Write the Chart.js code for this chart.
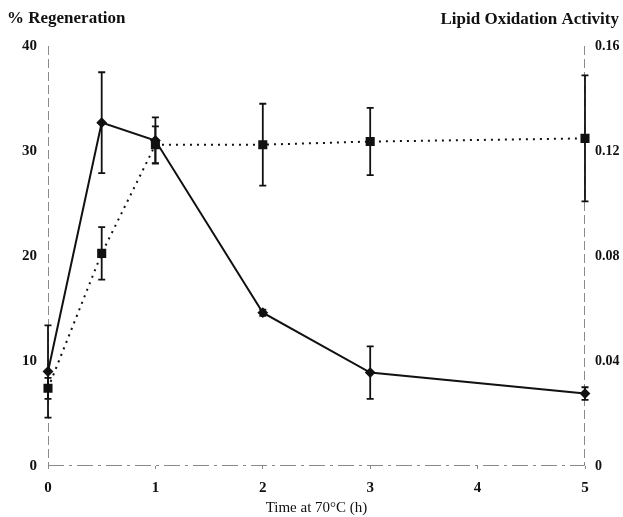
<!DOCTYPE html>
<html>
<head>
<meta charset="utf-8">
<script src="https://cdn.jsdelivr.net/npm/chart.js@4.4.1/dist/chart.umd.min.js"></script>
<style>
  html, body { margin: 0; padding: 0; background: #fff; }
  #wrap { width: 623px; height: 517px; position: relative; }
</style>
</head>
<body>
<div id="wrap"><canvas id="regenChart"></canvas></div>
<script>
// Heating time at 70 C (hours)
const timeHours = [0, 0.5, 1, 2, 3, 5];

// % regeneration (left axis), solid line with diamonds
const regeneration = [9.0, 32.7, 31.0, 14.6, 8.9, 6.9];
const regenerationErr = [4.4, 4.8, 2.2, 0.3, 2.5, 0.6];

// lipid oxidation activity (right axis), dotted line with squares
const lipidOxidation = [0.0296, 0.081, 0.1224, 0.1224, 0.1236, 0.1248];
const lipidOxidationErr = [0.004, 0.010, 0.007, 0.0156, 0.0128, 0.024];

const xTicks = [0, 1, 2, 3, 4, 5];
const leftTicks = [0, 10, 20, 30, 40];
const rightTicks = [0, 0.04, 0.08, 0.12, 0.16];

const serif = '"Liberation Serif", "Times New Roman", serif';

// dashed axis lines round the plot area (the scale borders are solid only)
const dashedAxes = {
    id: 'dashedAxes',
    beforeDatasetsDraw(chart) {
        const { left, right, top, bottom } = chart.chartArea;
        const ctx = chart.ctx;
        ctx.save();
        ctx.strokeStyle = '#8a8a8a';
        ctx.lineWidth = 1;
        ctx.setLineDash([9, 4]);
        ctx.beginPath();
        ctx.moveTo(left + 0.5, top); ctx.lineTo(left + 0.5, bottom);
        ctx.moveTo(right - 0.5, top); ctx.lineTo(right - 0.5, bottom);
        ctx.stroke();
        ctx.setLineDash([16, 5, 3, 5]);
        ctx.beginPath();
        ctx.moveTo(left, bottom - 0.5); ctx.lineTo(right, bottom - 0.5);
        ctx.stroke();
        ctx.restore();
    }
};

// error bars drawn with the chart's own scales
const errorBars = {
    id: 'errorBars',
    afterDatasetsDraw(chart) {
        const ctx = chart.ctx;
        const xs = chart.scales.x;
        ctx.save();
        ctx.strokeStyle = '#111';
        ctx.lineWidth = 1.8;
        chart.data.datasets.forEach(ds => {
            const ys = chart.scales[ds.yAxisID];
            ds.data.forEach((pt, i) => {
                const e = ds.errors[i];
                const px = xs.getPixelForValue(pt.x);
                const top = ys.getPixelForValue(pt.y + e);
                const bot = ys.getPixelForValue(pt.y - e);
                ctx.beginPath();
                ctx.moveTo(px, top); ctx.lineTo(px, bot);
                ctx.moveTo(px - 3.5, top); ctx.lineTo(px + 3.5, top);
                ctx.moveTo(px - 3.5, bot); ctx.lineTo(px + 3.5, bot);
                ctx.stroke();
            });
        });
        ctx.restore();
    }
};

// axis titles at the top corners
const cornerTitles = {
    id: 'cornerTitles',
    afterDraw(chart) {
        const ctx = chart.ctx;
        ctx.save();
        ctx.fillStyle = '#111';
        ctx.font = 'bold 17px ' + serif;
        ctx.textBaseline = 'middle';
        ctx.textAlign = 'left';
        ctx.fillText('% Regeneration', 7, 19);
        ctx.textAlign = 'right';
        ctx.fillText('Lipid Oxidation Activity', 619, 20);
        ctx.restore();
    }
};

const ctx = document.getElementById('regenChart').getContext('2d');

new Chart(ctx, {
    type: 'line',
    data: {
        datasets: [{
            label: '% Regeneration',
            data: timeHours.map((t, i) => ({ x: t, y: regeneration[i] })),
            errors: regenerationErr,
            yAxisID: 'y',
            borderColor: '#111',
            backgroundColor: '#111',
            borderWidth: 2,
            pointStyle: 'rectRot',
            pointRadius: 4,
            tension: 0,
            clip: false
        }, {
            label: 'Lipid Oxidation Activity',
            data: timeHours.map((t, i) => ({ x: t, y: lipidOxidation[i] })),
            errors: lipidOxidationErr,
            yAxisID: 'y1',
            borderColor: '#111',
            backgroundColor: '#111',
            borderWidth: 2,
            borderDash: [2, 5],
            pointStyle: 'rect',
            pointRadius: 5,
            tension: 0,
            clip: false
        }]
    },
    options: {
        responsive: true,
        maintainAspectRatio: false,
        animation: false,
        layout: { padding: { top: 46, right: 0, left: 0, bottom: 0 } },
        plugins: {
            legend: { display: false },
            tooltip: { enabled: false }
        },
        scales: {
            x: {
                type: 'linear',
                min: 0,
                max: 5,
                afterBuildTicks: axis => { axis.ticks = xTicks.map(v => ({ value: v })); },
                afterFit: axis => { axis.height = 51; },
                grid: { drawOnChartArea: false, drawTicks: true, tickLength: 3, color: '#888' },
                border: { display: false },
                ticks: { color: '#111', padding: 10, font: { family: serif, size: 15, weight: 'bold' } },
                title: {
                    display: true,
                    text: 'Time at 70°C (h)',
                    color: '#111',
                    padding: { top: 0, bottom: 0 },
                    font: { family: serif, size: 15 }
                }
            },
            y: {
                position: 'left',
                min: 0,
                max: 40,
                afterBuildTicks: axis => { axis.ticks = leftTicks.map(v => ({ value: v })); },
                afterFit: axis => { axis.width = 48; },
                grid: { drawOnChartArea: false, drawTicks: false },
                border: { display: false },
                ticks: { color: '#111', padding: 11, font: { family: serif, size: 15, weight: 'bold' } }
            },
            y1: {
                position: 'right',
                min: 0,
                max: 0.16,
                afterBuildTicks: axis => { axis.ticks = rightTicks.map(v => ({ value: v })); },
                afterFit: axis => { axis.width = 38; },
                grid: { drawOnChartArea: false, drawTicks: false },
                border: { display: false },
                ticks: {
                    color: '#111',
                    padding: 10,
                    font: { family: serif, size: 14, weight: 'bold' },
                    callback: v => v === 0 ? '0' : v.toFixed(2)
                }
            }
        }
    },
    plugins: [dashedAxes, errorBars, cornerTitles]
});
</script>
</body>
</html>
